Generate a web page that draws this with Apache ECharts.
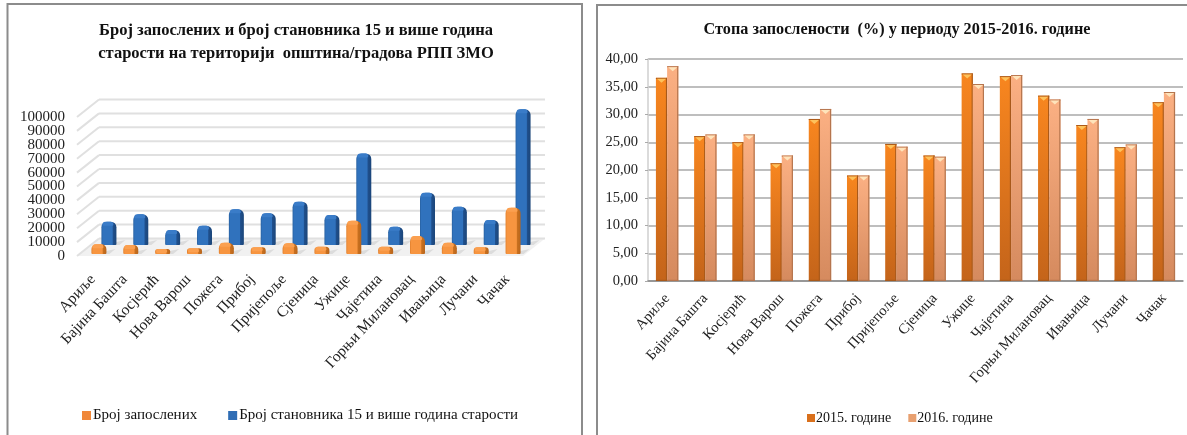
<!DOCTYPE html>
<html><head><meta charset="utf-8">
<style>html,body{margin:0;padding:0;background:#fff}#c{width:1187px;height:435px;filter:blur(0.55px)}</style>
<script src="https://cdn.jsdelivr.net/npm/echarts@6/dist/echarts.min.js"></script>
</head><body><div id="c"></div>
<script>
const municipalities = ['Ариље','Бајина Башта','Косјерић','Нова Варош','Пожега','Прибој','Пријепоље','Сјеница','Ужице','Чајетина','Горњи Милановац','Ивањица','Лучани','Чачак'];
const employed = [7000,6500,3600,4100,8100,4800,7700,5300,24000,5300,12900,8100,4800,33300];
const population15 = [16800,22100,10800,13900,25700,22800,31200,21600,65900,13200,37600,27600,18000,97600];
const rate2015 = [36.6,26.1,25.0,21.2,29.2,19.0,24.7,22.6,37.4,36.9,33.4,28.1,24.1,32.2];
const rate2016 = [38.7,26.4,26.4,22.6,31.0,19.0,24.2,22.4,35.5,37.1,32.7,29.2,24.6,34.05];
const countTicks = [0,10000,20000,30000,40000,50000,60000,70000,80000,90000,100000];
const countEndTicks = [0,100000];

const serif = '"Liberation Serif","Times New Roman",serif';
const DEPTH_X = 22, DEPTH_Y = 17.5;
const hgrad = (stops) => ({type:'linear',x:0,y:0,x2:1,y2:0,colorStops:stops.map(([offset,color])=>({offset,color}))});
const vgrad = (stops) => ({type:'linear',x:0,y:0,x2:0,y2:1,colorStops:stops.map(([offset,color])=>({offset,color}))});

function wallItem(params, api){
  const cs = params.coordSys, v = api.value(1), y = api.coord([0, v])[1];
  const left = cs.x, right = cs.x + cs.width;
  const line = {stroke:'#e0e0e0', lineWidth:2};
  const kids = [
    {type:'line',shape:{x1:left,y1:y,x2:left+DEPTH_X,y2:y-DEPTH_Y},style:line},
    {type:'line',shape:{x1:left+DEPTH_X,y1:y-DEPTH_Y,x2:right+DEPTH_X,y2:y-DEPTH_Y},style:line}
  ];
  if (v === 0) kids.unshift({type:'polygon',shape:{points:[[left,y],[left+DEPTH_X,y-DEPTH_Y],[right+DEPTH_X,y-DEPTH_Y],[right,y]]},style:{fill:'#f1f1f1'}});
  return {type:'group',children:kids};
}
function bar3d(pal, dx, dy){
  return function(params, api){
    const c = api.value(0), p = api.coord([c, api.value(1)]), b = api.coord([c, 0]);
    const w = 15, x = p[0]+dx-w/2, top = p[1]+dy, base = b[1]+dy, h = base-top, r = Math.min(5.5, h/2);
    return {type:'group',children:[
      {type:'polygon',shape:{points:[[x+w-3,base],[x+w,base-3],[x+w+9,base-5],[x+w+3,base]]},style:{fill:'#dcdcdc'}},
      {type:'rect',shape:{x,y:top,width:w,height:h,r:[r,r,1,1]},style:{fill:hgrad([[0,pal[1]],[0.1,pal[0]],[0.72,pal[0]],[0.78,pal[2]],[1,pal[3]]])}},
      {type:'rect',shape:{x:x+1,y:top,width:w-4,height:Math.min(4,h),r:[r,r,2,2]},style:{fill:pal[4]}}
    ]};
  };
}
function flatBar(pal, side){
  return function(params, api){
    const c = api.value(0), p = api.coord([c, api.value(1)]), b = api.coord([c, 0]);
    const w = api.size([1,0])[0]*0.293, x = p[0] + (side<0 ? -w : 0), top = p[1], h = b[1]-top;
    return {type:'group',children:[
      {type:'rect',shape:{x,y:top,width:w,height:h},style:{fill:vgrad([[0,pal[0]],[1,pal[1]]])}},
      {type:'rect',shape:{x:x+w-1.2,y:top,width:1.2,height:h},style:{fill:pal[2]}},
      {type:'rect',shape:{x,y:b[1]-1.2,width:w,height:1.2},style:{fill:pal[2]}},
      {type:'rect',shape:{x,y:top,width:w,height:1},style:{fill:pal[2]}},
      {type:'polygon',shape:{points:[[x+1,top+1],[x+w-1,top+1],[x+w/2,top+5]]},style:{fill:pal[3]}}
    ]};
  };
}
const orangePal = ['#f79540','#e07f2c','#c8701f','#b8651c','#fba050'];
const bluePal = ['#3072bd','#28609f','#1f4f8c','#1c4679','#3a7cc8'];
const pal15 = ['#f8861f','#c4641a','#a8591a','#fdc25c'];
const pal16 = ['#fbb083','#d58a5e','#b5754e','#fee4bb'];
const pairs = a => a.map((v,i)=>[municipalities[i],v]);
const countLabel = {fontFamily:serif,fontSize:15,color:'#222',margin:12,formatter:v=>String(v)};

const option = {
  animation:false, backgroundColor:'#fff',
  graphic:[
    {type:'polyline',silent:true,z:0,shape:{points:[[7.5,440],[7.5,4],[582,4],[582,440]]},style:{stroke:'#8c8c8c',lineWidth:2,fill:null}},
    {type:'polyline',silent:true,z:0,shape:{points:[[597,440],[597,5],[1190,5]]},style:{stroke:'#8c8c8c',lineWidth:2,fill:null}}
  ],
  title:[
    {text:'Број запослених и број становника 15 и више година\nстарости на територији  општина/градова РПП ЗМО',left:291,top:14,textAlign:'center',
     textStyle:{fontFamily:serif,fontSize:16.5,fontWeight:'bold',color:'#111',lineHeight:23}},
    {text:'Стопа запослености  (%) у периоду 2015-2016. године',left:892,top:17,textAlign:'center',
     textStyle:{fontFamily:serif,fontSize:16.2,fontWeight:'bold',color:'#111'}}
  ],
  legend:[
    {data:['Број запослених','Број становника 15 и више година старости'],left:77,top:403,itemWidth:9,itemHeight:9,itemGap:31,selectedMode:false,icon:'rect',
     textStyle:{fontFamily:serif,fontSize:15,color:'#111',padding:[0,0,0,-3]}},
    {data:['2015. године','2016. године'],left:802,top:406,itemWidth:8,itemHeight:8,itemGap:17,selectedMode:false,icon:'rect',
     textStyle:{fontFamily:serif,fontSize:14,color:'#111',padding:[0,0,0,-4]}}
  ],
  grid:[
    {left:77,top:117,width:446,height:139},
    {left:648,top:59,width:535,height:222}
  ],
  xAxis:[
    {type:'category',gridIndex:0,data:municipalities,axisLine:{show:false},axisTick:{show:false},
     axisLabel:{rotate:47,fontFamily:serif,fontSize:15.5,color:'#222',interval:0,margin:21},z:5},
    {type:'category',gridIndex:1,data:municipalities,axisLine:{lineStyle:{color:'#8a8a8a',width:1.5}},axisTick:{length:4,lineStyle:{color:'#8a8a8a'}},
     axisLabel:{rotate:48,fontFamily:serif,fontSize:14.6,color:'#222',interval:0,margin:15}}
  ],
  yAxis:[
    {type:'value',gridIndex:0,min:0,max:100000,interval:10000,axisLine:{show:false},axisTick:{show:false},splitLine:{show:false},
     axisLabel:{...countLabel,showMinLabel:false,showMaxLabel:false}},
    {type:'value',gridIndex:1,min:0,max:40,interval:5,axisLine:{show:true,lineStyle:{color:'#cfcfcf',width:1.5}},axisTick:{show:true,length:3,lineStyle:{color:'#aaa'}},
     splitLine:{lineStyle:{color:'#a8a8a8',width:1.5}},
     axisLabel:{fontFamily:serif,fontSize:14.5,color:'#222',margin:10,showMinLabel:true,showMaxLabel:true,formatter:v=>v.toFixed(2).replace('.',',')}},
    {type:'value',gridIndex:0,position:'left',min:0,max:100000,interval:100000,axisLine:{show:false},axisTick:{show:false},splitLine:{show:false},
     axisLabel:{...countLabel,customValues:countEndTicks,showMinLabel:true,showMaxLabel:true}}
  ],
  series:[
    {name:'зидови',type:'custom',xAxisIndex:0,yAxisIndex:0,z:1,silent:true,data:countTicks.map(v=>[municipalities[0],v]),encode:{x:0,y:1},renderItem:wallItem},
    {name:'Број становника 15 и више година старости',type:'custom',xAxisIndex:0,yAxisIndex:0,z:2,data:pairs(population15),encode:{x:0,y:1},
     renderItem:bar3d(bluePal,16,-11),itemStyle:{color:'#2f6db5'}},
    {name:'Број запослених',type:'custom',xAxisIndex:0,yAxisIndex:0,z:3,data:pairs(employed),encode:{x:0,y:1},
     renderItem:bar3d(orangePal,6,-2),itemStyle:{color:'#f0883a'}},
    {name:'2015. године',type:'custom',xAxisIndex:1,yAxisIndex:1,z:3,data:pairs(rate2015),encode:{x:0,y:1},renderItem:flatBar(pal15,-1),itemStyle:{color:'#d9701c'}},
    {name:'2016. године',type:'custom',xAxisIndex:1,yAxisIndex:1,z:3,data:pairs(rate2016),encode:{x:0,y:1},renderItem:flatBar(pal16,1),itemStyle:{color:'#e8a070'}}
  ]
};
echarts.init(document.getElementById('c')).setOption(option);
</script></body></html>
